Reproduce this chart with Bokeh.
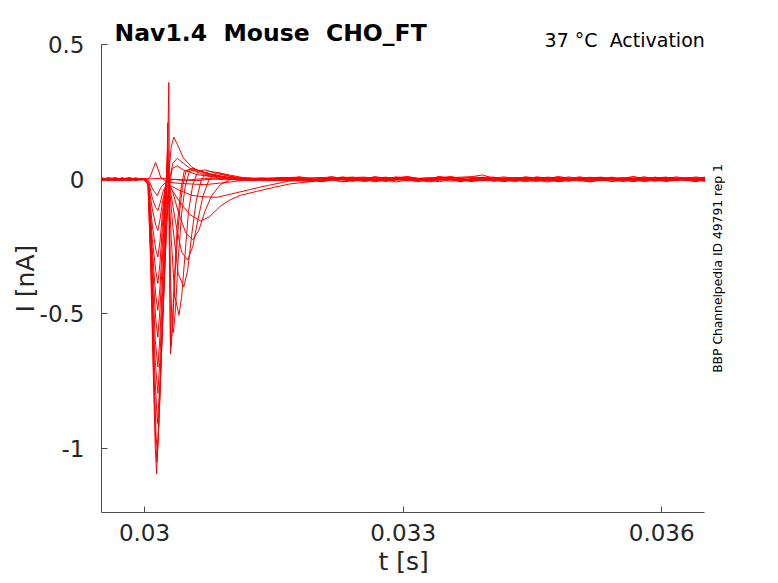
import math
from bokeh.plotting import figure
from bokeh.models import Range1d, FixedTicker, Label, ColumnDataSource, Title
from bokeh.embed import file_html
from bokeh.resources import INLINE

# ---------------- data (time in ms, current in nA) ----------------
X_TICKS = [0.030, 0.033, 0.036]
X_TICK_LABELS = ["0.03", "0.033", "0.036"]
Y_TICKS = [-1.0, -0.5, 0.0, 0.5]
Y_TICK_LABELS = ["-1", "-0.5", "0", "0.5"]
X_AXIS_BOUNDS = (0.0295, 0.0365)
Y_AXIS_BOUNDS = (-1.24, 0.5)

PRE_T_MS = [29.50, 29.58, 29.66, 29.74, 29.82, 29.90, 29.96]
TAIL_T_MS_A = [31.80, 32.05, 32.30, 32.55, 32.80, 33.05, 33.30, 33.55, 33.80, 33.92, 34.05,
               34.30, 34.55, 34.80, 35.05, 35.30, 35.55, 35.80, 36.05, 36.30, 36.50]
TAIL_T_MS_B = [31.92, 32.17, 32.42, 32.67, 32.92, 33.17, 33.42, 33.67, 33.86, 33.98, 34.17,
               34.42, 34.67, 34.92, 35.17, 35.42, 35.67, 35.92, 36.17, 36.40, 36.50]

A1_T = [30.00, 30.04, 30.07, 30.10, 30.125, 30.14, 30.16, 30.19, 30.22, 30.25, 30.28, 30.32, 30.38, 30.45, 30.60, 30.85, 31.10, 31.35, 31.60]
A1_I = [0.000, -0.020, -0.300, -0.700, -1.000, -1.095, -0.950, -0.700, -0.450, -0.220, -0.050, 0.040, 0.050, 0.035, 0.018, 0.006, -0.004, 0.005, -0.003]
A1_PRE = [0.004, -0.002, 0.005, -0.003, 0.002, -0.004, 0.001]
A1_TAIL = [0.006, -0.004, 0.009, -0.007, 0.003, 0.010, -0.005, 0.002, -0.009, 0.004, 0.007, -0.003, 0.005, -0.008, 0.002, 0.006, -0.004, 0.008, -0.006, 0.003, -0.002]

A2_T = [30.00, 30.04, 30.075, 30.105, 30.13, 30.145, 30.165, 30.195, 30.225, 30.255, 30.28, 30.31, 30.34, 30.38, 30.45, 30.55, 30.70, 30.90, 31.15, 31.40, 31.65]
A2_I = [0.002, -0.020, -0.320, -0.720, -0.980, -1.050, -0.920, -0.660, -0.400, -0.150, 0.020, 0.120, 0.157, 0.130, 0.080, 0.045, 0.020, 0.008, 0.003, -0.004, 0.006]
A2_PRE = [-0.003, 0.004, -0.001, 0.005, -0.004, 0.002, 0.000]
A2_TAIL = [-0.005, 0.008, -0.002, 0.006, -0.010, 0.004, 0.007, -0.006, 0.003, -0.001, -0.007, 0.009, -0.004, 0.001, -0.008, 0.005, 0.002, -0.006, 0.009, -0.003, 0.004]

A3_T = [30.00, 30.045, 30.08, 30.11, 30.135, 30.15, 30.17, 30.20, 30.23, 30.26, 30.29, 30.33, 30.38, 30.45, 30.55, 30.70, 31.00, 31.25, 31.55]
A3_I = [-0.002, -0.020, -0.330, -0.720, -0.960, -1.009, -0.880, -0.620, -0.380, -0.140, 0.000, 0.060, 0.078, 0.060, 0.035, 0.015, 0.005, -0.005, 0.004]
A3_PRE = [0.002, -0.005, 0.003, 0.001, -0.002, 0.004, -0.001]
A3_TAIL = [0.003, -0.009, 0.005, 0.001, 0.008, -0.006, 0.002, 0.010, -0.004, 0.006, 0.001, -0.008, 0.007, -0.002, 0.009, -0.005, 0.004, 0.001, -0.007, 0.006, -0.004]

B1_T = [30.00, 30.045, 30.08, 30.115, 30.15, 30.18, 30.21, 30.24, 30.263, 30.282, 30.292, 30.302, 30.32, 30.35, 30.38, 30.42, 30.46, 30.55, 30.65, 30.80, 31.00, 31.25, 31.55]
B1_I = [0.000, -0.020, -0.320, -0.700, -0.908, -0.750, -0.500, -0.220, 0.000, 0.360, -0.200, -0.649, -0.550, -0.350, -0.170, -0.040, 0.030, 0.040, 0.030, 0.015, 0.005, -0.004, 0.006]
B1_PRE = [-0.001, 0.003, -0.004, 0.002, 0.005, -0.003, 0.002]
B1_TAIL = [-0.008, 0.002, -0.006, 0.009, -0.003, 0.001, -0.009, 0.005, 0.008, -0.002, 0.004, 0.006, -0.010, 0.003, 0.005, -0.007, 0.009, -0.001, 0.002, -0.008, 0.005]

B2_T = [30.00, 30.045, 30.08, 30.12, 30.155, 30.18, 30.21, 30.24, 30.258, 30.27, 30.282, 30.30, 30.31, 30.33, 30.36, 30.40, 30.44, 30.48, 30.56, 30.70, 30.90, 31.20, 31.50]
B2_I = [0.003, -0.020, -0.300, -0.660, -0.796, -0.660, -0.420, -0.150, 0.000, 0.210, -0.100, -0.600, -0.620, -0.520, -0.320, -0.140, -0.030, 0.030, 0.040, 0.025, 0.010, 0.002, -0.005]
B2_PRE = [0.005, 0.001, -0.003, -0.005, 0.003, 0.001, -0.002]
B2_TAIL = [0.009, -0.003, 0.004, -0.008, 0.006, -0.002, 0.005, -0.007, 0.001, 0.008, -0.005, 0.002, 0.006, -0.009, 0.003, 0.008, -0.006, 0.004, -0.002, 0.007, -0.001]

B3_T = [30.00, 30.045, 30.085, 30.125, 30.155, 30.18, 30.21, 30.24, 30.255, 30.268, 30.28, 30.30, 30.32, 30.335, 30.36, 30.39, 30.43, 30.47, 30.52, 30.60, 30.75, 31.00, 31.30, 31.60]
B3_I = [-0.002, -0.020, -0.300, -0.600, -0.698, -0.580, -0.360, -0.120, 0.020, 0.120, 0.000, -0.350, -0.550, -0.570, -0.480, -0.300, -0.130, -0.030, 0.030, 0.035, 0.020, 0.005, -0.003, 0.005]
B3_PRE = [-0.004, -0.001, 0.004, 0.002, -0.003, 0.005, 0.001]
B3_TAIL = [0.001, 0.007, -0.008, 0.003, -0.005, 0.009, -0.003, 0.006, 0.010, 0.016, 0.004, -0.006, 0.001, 0.008, -0.004, -0.002, 0.006, -0.009, 0.005, 0.001, 0.007]

B4_T = [30.00, 30.045, 30.09, 30.13, 30.155, 30.18, 30.21, 30.24, 30.265, 30.28, 30.31, 30.35, 30.40, 30.43, 30.47, 30.51, 30.56, 30.62, 30.70, 30.85, 31.10, 31.40, 31.65]
B4_I = [0.000, -0.020, -0.300, -0.520, -0.587, -0.480, -0.280, -0.080, 0.060, -0.020, -0.220, -0.430, -0.505, -0.440, -0.280, -0.120, -0.020, 0.030, 0.035, 0.020, 0.005, 0.004, -0.006]
B4_PRE = [0.001, 0.005, 0.000, -0.004, 0.001, -0.002, 0.003]
B4_TAIL = [-0.004, 0.005, 0.008, -0.009, 0.002, -0.007, 0.010, -0.001, -0.006, 0.002, 0.009, -0.004, 0.008, 0.003, -0.010, 0.004, -0.003, 0.007, 0.001, -0.006, 0.003]

B5_T = [30.00, 30.045, 30.09, 30.13, 30.155, 30.18, 30.21, 30.24, 30.265, 30.29, 30.33, 30.39, 30.455, 30.50, 30.55, 30.60, 30.66, 30.74, 30.85, 31.00, 31.20, 31.45, 31.65]
B5_I = [0.002, -0.020, -0.260, -0.430, -0.487, -0.400, -0.220, -0.050, 0.030, -0.030, -0.180, -0.350, -0.400, -0.340, -0.200, -0.080, 0.000, 0.030, 0.025, 0.010, 0.000, 0.005, -0.004]
B5_PRE = [0.003, -0.004, -0.002, 0.004, 0.000, 0.003, -0.003]
B5_TAIL = [0.007, -0.006, 0.001, 0.005, -0.008, 0.003, -0.006, 0.009, -0.002, -0.005, 0.001, 0.007, -0.005, 0.010, -0.001, 0.006, -0.008, 0.003, 0.008, -0.004, -0.006]

B6_T = [30.00, 30.045, 30.09, 30.13, 30.155, 30.18, 30.21, 30.24, 30.265, 30.30, 30.36, 30.43, 30.50, 30.56, 30.62, 30.68, 30.75, 30.85, 31.00, 31.20, 31.45, 31.65]
B6_I = [-0.002, -0.020, -0.220, -0.340, -0.387, -0.310, -0.160, -0.030, 0.010, -0.040, -0.160, -0.270, -0.300, -0.250, -0.150, -0.060, 0.000, 0.025, 0.015, 0.003, -0.005, 0.004]
B6_PRE = [-0.002, 0.002, 0.006, -0.001, -0.005, 0.000, 0.002]
B6_TAIL = [-0.002, 0.010, -0.005, -0.004, 0.007, -0.009, 0.004, -0.003, 0.006, 0.003, -0.009, 0.005, 0.002, -0.006, 0.008, -0.009, 0.001, 0.005, -0.004, 0.009, 0.002]

B7_T = [30.00, 30.045, 30.09, 30.13, 30.155, 30.18, 30.21, 30.24, 30.27, 30.32, 30.40, 30.48, 30.56, 30.63, 30.70, 30.78, 30.88, 31.00, 31.20, 31.45, 31.65]
B7_I = [0.001, -0.020, -0.170, -0.260, -0.289, -0.230, -0.120, -0.030, 0.000, -0.040, -0.130, -0.200, -0.225, -0.190, -0.120, -0.060, -0.020, 0.000, 0.005, -0.004, 0.005]
B7_PRE = [0.006, -0.003, 0.001, 0.003, 0.004, -0.005, 0.000]
B7_TAIL = [0.005, -0.007, 0.006, 0.008, -0.001, 0.006, -0.010, 0.004, -0.007, -0.003, 0.006, -0.001, -0.008, 0.005, 0.002, 0.007, -0.005, -0.003, 0.006, -0.002, 0.008]

B8_T = [30.00, 30.045, 30.09, 30.13, 30.155, 30.18, 30.21, 30.25, 30.30, 30.40, 30.52, 30.65, 30.75, 30.88, 31.00, 31.11, 31.30, 31.50, 31.69]
B8_I = [0.000, -0.015, -0.110, -0.170, -0.190, -0.150, -0.080, -0.030, -0.030, -0.080, -0.130, -0.155, -0.140, -0.100, -0.075, -0.060, -0.045, -0.030, -0.017]
B8_PRE = [-0.005, 0.000, 0.002, -0.002, 0.003, 0.004, -0.002]
B8_TAIL = [-0.009, -0.001, 0.003, -0.006, 0.009, -0.004, 0.008, -0.008, 0.004, 0.001, -0.002, 0.008, 0.004, -0.007, 0.006, -0.003, 0.010, -0.007, 0.001, 0.005, -0.005]

B9_T = [30.00, 30.05, 30.09, 30.13, 30.155, 30.18, 30.22, 30.28, 30.40, 30.55, 30.70, 30.84, 31.00, 31.20, 31.40, 31.60]
B9_I = [0.000, -0.010, -0.070, -0.105, -0.116, -0.090, -0.040, -0.020, -0.040, -0.060, -0.065, -0.067, -0.055, -0.040, -0.025, -0.012]
B9_PRE = [0.000, 0.004, -0.005, 0.005, -0.001, -0.002, 0.003]
B9_TAIL = [0.004, 0.006, -0.010, 0.002, -0.004, 0.008, -0.002, 0.003, -0.005, 0.007, 0.008, -0.007, 0.009, -0.001, -0.006, 0.004, -0.002, 0.009, -0.008, 0.002, 0.006]

B10_T = [30.00, 30.05, 30.10, 30.147, 30.19, 30.25, 30.40, 30.70, 31.00, 31.30, 31.60]
B10_I = [0.001, -0.005, -0.040, -0.060, -0.030, -0.010, -0.015, -0.020, -0.010, 0.003, -0.004]
B10_PRE = [0.003, -0.002, 0.002, -0.004, 0.006, 0.001, -0.001]
B10_TAIL = [-0.006, 0.003, 0.007, -0.003, 0.005, -0.001, 0.006, -0.009, 0.007, -0.004, 0.003, 0.001, -0.006, 0.009, -0.005, 0.008, -0.007, 0.002, 0.004, -0.009, 0.001]

C1_T = [30.00, 30.06, 30.09, 30.128, 30.16, 30.19, 30.24, 30.35, 30.60, 30.90, 31.20, 31.50]
C1_I = [0.002, 0.005, 0.030, 0.063, 0.035, 0.005, -0.005, 0.000, -0.005, 0.004, -0.003, 0.005]
C1_PRE = [-0.003, 0.006, 0.001, 0.000, -0.003, 0.003, 0.002]
C1_TAIL = [0.008, -0.008, 0.002, 0.006, -0.006, 0.005, -0.004, 0.007, -0.003, 0.005, -0.008, 0.004, 0.003, -0.004, 0.007, -0.001, 0.005, -0.005, 0.007, 0.004, -0.007]

C2_T = [30.00, 30.20, 30.45, 30.70, 30.95, 31.20, 31.50]
C2_I = [0.000, 0.004, -0.004, 0.003, -0.002, 0.004, -0.003]
C2_PRE = [0.002, -0.001, -0.004, 0.004, 0.001, -0.003, 0.000]
C2_TAIL = [-0.001, 0.004, -0.007, 0.009, 0.001, -0.005, 0.009, -0.005, 0.002, -0.006, 0.005, -0.009, 0.006, 0.002, -0.003, 0.006, -0.009, 0.008, -0.003, -0.005, 0.003]

TRACES = [
    (A1_PRE, A1_T, A1_I, TAIL_T_MS_A, A1_TAIL), (A2_PRE, A2_T, A2_I, TAIL_T_MS_B, A2_TAIL),
    (A3_PRE, A3_T, A3_I, TAIL_T_MS_A, A3_TAIL), (B1_PRE, B1_T, B1_I, TAIL_T_MS_B, B1_TAIL),
    (B2_PRE, B2_T, B2_I, TAIL_T_MS_A, B2_TAIL), (B3_PRE, B3_T, B3_I, TAIL_T_MS_A, B3_TAIL),
    (B4_PRE, B4_T, B4_I, TAIL_T_MS_B, B4_TAIL), (B5_PRE, B5_T, B5_I, TAIL_T_MS_A, B5_TAIL),
    (B6_PRE, B6_T, B6_I, TAIL_T_MS_B, B6_TAIL), (B7_PRE, B7_T, B7_I, TAIL_T_MS_A, B7_TAIL),
    (B8_PRE, B8_T, B8_I, TAIL_T_MS_B, B8_TAIL), (B9_PRE, B9_T, B9_I, TAIL_T_MS_A, B9_TAIL),
    (B10_PRE, B10_T, B10_I, TAIL_T_MS_B, B10_TAIL), (C1_PRE, C1_T, C1_I, TAIL_T_MS_A, C1_TAIL),
    (C2_PRE, C2_T, C2_I, TAIL_T_MS_B, C2_TAIL),
]

TITLE = "Nav1.4 \u00a0Mouse \u00a0CHO_FT"
SUBTITLE = "37 °C \u00a0Activation"
SIDE_NOTE = "BBP Channelpedia ID 49791 rep 1"
X_LABEL = "t [s]"
Y_LABEL = "I [nA]"

# ---------------- figure ----------------
FONT = "DejaVu Sans"
# the plotting frame is larger than the drawn axes so that the titles and the
# side note (which sit outside the axes box) can be placed as in-frame labels
X_VIEW = (0.029501, 0.037355)
Y_VIEW = (-1.2387, 0.6647)

p = figure(width=778, height=583, x_range=Range1d(*X_VIEW), y_range=Range1d(*Y_VIEW),
           output_backend="svg", toolbar_location=None,
           min_border_left=101, min_border_right=0, min_border_top=0, min_border_bottom=71)
p.outline_line_color = None
p.grid.visible = False
p.background_fill_color = "white"
p.border_fill_color = "white"

AXIS_COLOR = "#4a4a4a"
TEXT_COLOR = "#262626"
for ax, ticks, labels, bounds in ((p.xaxis[0], X_TICKS, X_TICK_LABELS, X_AXIS_BOUNDS),
                                  (p.yaxis[0], Y_TICKS, Y_TICK_LABELS, Y_AXIS_BOUNDS)):
    ax.ticker = FixedTicker(ticks=ticks)
    ax.major_label_overrides = dict(zip(ticks, labels))
    ax.bounds = bounds
    ax.axis_line_color = AXIS_COLOR
    ax.axis_line_width = 1
    ax.major_tick_line_color = AXIS_COLOR
    ax.major_tick_in = 6
    ax.major_tick_out = 0
    ax.minor_tick_line_color = None
    ax.major_label_text_font = FONT
    ax.major_label_text_font_size = "23px"
    ax.major_label_text_color = TEXT_COLOR

p.xaxis.major_label_standoff = 11
p.yaxis.major_label_standoff = 17

# axis titles as side-panel titles (offset lets them sit at the axes' centres)
p.add_layout(Title(text=X_LABEL, align="left", offset=277, standoff=5, vertical_align="middle",
                   text_font=FONT, text_font_size="25px", text_font_style="normal",
                   text_color=TEXT_COLOR), "below")
p.add_layout(Title(text=Y_LABEL, align="left", offset=200, standoff=-9, vertical_align="middle",
                   text_font=FONT, text_font_size="25px", text_font_style="normal",
                   text_color=TEXT_COLOR), "left")

for pre, t_act, i_act, tail_t, tail in TRACES:
    t_ms = PRE_T_MS + t_act + tail_t
    cur = pre + i_act + tail
    src = ColumnDataSource(dict(t=[v / 1000.0 for v in t_ms], i=cur))
    p.line("t", "i", source=src, line_color="#ff0000", line_width=1)

# titles and notes (inside the enlarged frame)
p.add_layout(Label(x=0.029664, y=Y_AXIS_BOUNDS[1], text=TITLE, text_align="left",
                   text_baseline="middle", x_offset=-1, y_offset=12, text_font=FONT,
                   text_font_style="bold", text_font_size="23.5px", text_color="black"))
p.add_layout(Label(x=X_AXIS_BOUNDS[1], y=Y_AXIS_BOUNDS[1], text=SUBTITLE, text_align="right",
                   text_baseline="middle", x_offset=0, y_offset=5, text_font=FONT,
                   text_font_size="19px", text_color="black"))
p.add_layout(Label(x=X_AXIS_BOUNDS[1], y=-0.3316, text=SIDE_NOTE, text_align="center",
                   text_baseline="middle", x_offset=13, angle=math.pi / 2, text_font=FONT,
                   text_font_size="12.3px", text_color="black"))

open("out.html", "w").write(file_html(p, INLINE))
